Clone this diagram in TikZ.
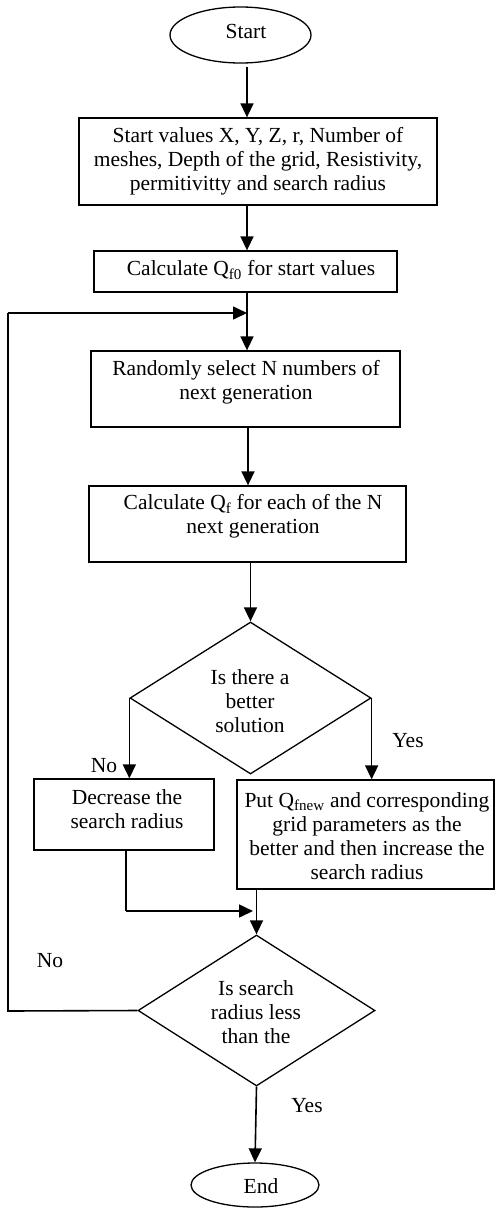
\documentclass[tikz,border=0pt]{standalone}
\usepackage{fontspec}
\setmainfont{Liberation Serif}
\usetikzlibrary{shapes.geometric,arrows.meta}
\begin{document}
\begin{tikzpicture}[x=1pt,y=-1pt,
 font=\fontsize{21.5}{24}\selectfont,
 box/.style={draw,line width=1.3pt,inner sep=0pt},
 txt/.style={align=center,inner sep=0pt},
 term/.style={draw,ellipse,line width=1.3pt,inner sep=0pt},
 dec/.style={draw,diamond,line width=1.3pt,inner sep=0pt},
 arr/.style={line width=1.6pt,-{Triangle[length=14pt,width=13pt]}},
 ln/.style={line width=1.6pt},
 lbl/.style={inner sep=0pt}]
\useasboundingbox (0,0) rectangle (495,1208);
% nodes
\node[term,minimum width=141pt,minimum height=56pt] (s) at (240.5,35) {};
\node[txt] (st) at (246,31) {Start};
\node[box,minimum width=358pt,minimum height=87pt] (b1) at (258,161.5) {};
\node[txt] (t1) at (258,161) {Start values X, Y, Z, r, Number of\\meshes, Depth of the grid, Resistivity,\\permitivitty and search radius};
\node[box,minimum width=303pt,minimum height=41pt] (b2) at (245.5,271.5) {};
\node[txt] (t2) at (251,270) {Calculate Q\textsubscript{f0} for start values};
\node[box,minimum width=309pt,minimum height=76pt] (b3) at (245.5,389) {};
\node[txt] (t3) at (246,382.5) {Randomly select N numbers of\\next generation};
\node[box,minimum width=317pt,minimum height=76pt] (b4) at (247.5,524) {};
\node[txt] (t4) at (253,516.5) {Calculate Q\textsubscript{f} for each of the N\\next generation};
\node[dec,minimum width=241pt,minimum height=152pt] (d1) at (250.5,698) {};
\node[txt] (td1) at (250,701) {Is there a\\better\\solution};
\node[box,minimum width=180pt,minimum height=71pt] (bn) at (124,814.5) {};
\node[txt] (tn) at (127,809.5) {Decrease the\\search radius};
\node[box,minimum width=257pt,minimum height=109pt] (by) at (365.5,834.5) {};
\node[txt] (ty) at (367,836) {Put Q\textsubscript{fnew} and corresponding\\grid parameters as the\\better and then increase the\\search radius};
\node[dec,minimum width=237pt,minimum height=151pt] (d2) at (256.5,1010.5) {};
\node[txt] (td2) at (256,1012) {Is search\\radius less\\than the};
\node[term,minimum width=128pt,minimum height=44pt] (e) at (255,1185) {};
\node[txt] (et) at (261,1186) {End};
% labels
\node[lbl] (lno1) at (104,766) {No};
\node[lbl] (lyes1) at (408,741) {Yes};
\node[lbl] (lno2) at (50,961) {No};
\node[lbl] (lyes2) at (307,1106) {Yes};
% connectors
\coordinate (c1) at (8,1011);
\coordinate (c2) at (8,313);
\coordinate (c3) at (247,313);
\coordinate (c4) at (126,911);
\coordinate (c5) at (253,911);
\draw[arr] ([shift={(6.5,3)}]s.south) -- (b1.north -| 247,0);
\draw[arr] (b1.south -| 247,0) -- (b2.north -| 247,0);
\draw[arr] (b2.south -| 247,0) -- (b3.north -| 247,0);
\draw[arr] (b3.south -| 248,0) -- (b4.north -| 248,0);
\draw[arr] (b4.south -| 250.5,0) -- (d1.north);
\draw[arr] (d1.west) -- (bn.north -| d1.west);
\draw[arr] (d1.east) -- (by.north -| d1.east);
\draw[ln] (bn.south -| c4) -- (c4);
\draw[arr] (c4) -- (c5);
\draw[arr] (by.south -| 256.5,0) -- (d2.north);
\draw[arr] (d2.south) -- (e.north);
\draw[ln] (d2.west) -- (c1) -- (c2);
\draw[arr] (c2) -- (c3);
\end{tikzpicture}
\end{document}
